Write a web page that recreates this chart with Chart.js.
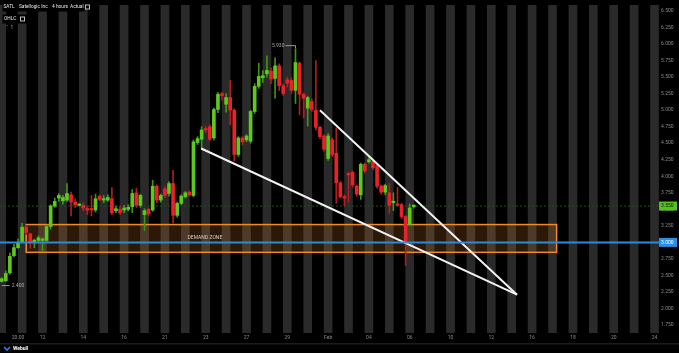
<!DOCTYPE html>
<html>
<head>
<meta charset="utf-8">
<script src="https://cdn.jsdelivr.net/npm/chart.js@4.4.1/dist/chart.umd.min.js"></script>
<style>
  html, body { margin: 0; padding: 0; background: #000; }
  #wrap { width: 679px; height: 353px; position: relative; }
</style>
</head>
<body>
<div id="wrap"><canvas id="satlChart"></canvas></div>
<script>
// 4-hour candles (one slot per candle)
const opens = [2.41, 2.42, 2.54, 2.80, 2.92, 3.01, 3.23, 3.13, 3.01, 3.03,
  3.03, 3.03, 3.24, 3.55, 3.67, 3.63, 3.64, 3.72, 3.61, 3.56,
  3.56, 3.50, 3.50, 3.49, 3.70, 3.64, 3.64, 3.66, 3.48, 3.50,
  3.49, 3.50, 3.54, 3.75, 3.56, 3.42, 3.50, 3.49, 3.85, 3.64,
  3.81, 3.74, 3.89, 3.41, 3.59, 3.69, 3.76, 3.71, 4.51, 4.56,
  4.72, 4.75, 4.58, 5.01, 5.25, 5.09, 5.19, 5.00, 4.33, 4.58,
  4.55, 4.53, 4.98, 5.36, 5.49, 5.55, 5.59, 5.48, 5.67, 5.37,
  5.46, 5.45, 5.30, 5.71, 5.24, 5.03, 5.13, 5.00, 4.74, 4.61,
  4.27, 4.55, 4.35, 3.90, 3.69, 4.04, 4.06, 3.85, 3.72, 4.18,
  4.22, 4.22, 4.16, 3.85, 3.76, 3.75, 3.60, 3.58, 3.57, 3.39,
  3.27, 3.54];
const highs = [2.47, 2.57, 2.84, 2.97, 3.05, 3.29, 3.26, 3.14, 3.05, 3.10,
  3.07, 3.26, 3.57, 3.67, 3.74, 3.71, 3.89, 3.76, 3.66, 3.58,
  3.60, 3.55, 3.71, 3.73, 3.72, 3.71, 3.72, 3.83, 3.55, 3.55,
  3.56, 3.57, 3.80, 3.82, 3.73, 3.51, 3.52, 3.94, 3.87, 3.73,
  3.84, 3.92, 4.09, 3.61, 3.72, 3.77, 3.78, 4.55, 4.60, 4.75,
  4.76, 4.78, 5.03, 5.27, 5.27, 5.25, 5.45, 5.02, 4.60, 4.60,
  4.63, 5.00, 5.40, 5.71, 5.60, 5.82, 5.64, 5.79, 5.70, 5.40,
  5.50, 5.49, 5.93, 5.73, 5.26, 5.21, 5.17, 5.75, 4.76, 4.63,
  4.65, 4.58, 4.73, 3.92, 3.72, 4.06, 4.08, 3.87, 4.20, 4.20,
  4.28, 4.24, 4.18, 3.87, 3.88, 3.89, 3.75, 3.83, 3.59, 3.41,
  3.58, 3.57];
const lows = [2.40, 2.41, 2.52, 2.78, 2.91, 3.00, 3.12, 2.91, 2.92, 3.00,
  2.87, 3.00, 3.20, 3.53, 3.62, 3.58, 3.62, 3.40, 3.53, 3.55,
  3.48, 3.42, 3.40, 3.46, 3.63, 3.60, 3.62, 3.42, 3.45, 3.42,
  3.45, 3.48, 3.45, 3.53, 3.53, 3.18, 3.40, 3.47, 3.60, 3.61,
  3.68, 3.70, 3.29, 3.38, 3.57, 3.67, 3.70, 3.69, 4.48, 4.41,
  4.66, 4.54, 4.55, 4.96, 5.15, 4.97, 4.78, 4.23, 4.30, 4.47,
  4.52, 4.50, 4.95, 5.33, 5.42, 5.50, 5.40, 5.18, 5.30, 5.22,
  5.35, 5.25, 5.10, 4.93, 4.88, 4.76, 4.98, 4.70, 4.57, 4.38,
  4.24, 4.30, 3.59, 3.67, 3.55, 3.61, 3.84, 3.70, 3.65, 4.05,
  4.20, 4.10, 3.82, 3.73, 3.72, 3.44, 3.48, 3.55, 3.36, 2.65,
  3.25, 3.52];
const closes = [2.45, 2.53, 2.79, 2.92, 3.00, 3.23, 3.15, 3.00, 3.03, 3.07,
  3.05, 3.24, 3.55, 3.62, 3.71, 3.68, 3.74, 3.61, 3.57, 3.57,
  3.52, 3.49, 3.49, 3.66, 3.65, 3.66, 3.68, 3.45, 3.51, 3.45,
  3.52, 3.53, 3.74, 3.56, 3.71, 3.48, 3.43, 3.85, 3.64, 3.71,
  3.71, 3.89, 3.41, 3.59, 3.70, 3.75, 3.72, 4.52, 4.57, 4.70,
  4.70, 4.56, 5.01, 5.24, 5.22, 5.19, 5.00, 4.33, 4.58, 4.52,
  4.61, 4.98, 5.36, 5.51, 5.52, 5.60, 5.47, 5.67, 5.37, 5.25,
  5.41, 5.30, 5.72, 5.24, 5.18, 5.19, 5.01, 4.74, 4.60, 4.41,
  4.61, 4.33, 3.90, 3.69, 3.67, 4.02, 3.87, 3.73, 4.18, 4.08,
  4.25, 4.13, 3.85, 3.76, 3.86, 3.56, 3.62, 3.56, 3.39, 3.01,
  3.52, 3.55];

const xTickAt = [4, 10, 20, 30, 40, 50, 60, 70, 80, 90, 100, 110, 120, 130, 140, 150, 160];
const xTickLabels = ['20:00', '12', '14', '16', '21', '23', '27', '29', 'Feb', '04', '06', '10', '12', '16', '18', '20', '24'];
const yTicks = [1.75, 2.0, 2.25, 2.5, 2.75, 3.0, 3.25, 3.5, 3.75, 4.0, 4.25, 4.5, 4.75, 5.0, 5.25, 5.5, 5.75, 6.0, 6.25, 6.5];

const lastPrice = 3.55;
const supportLevel = 3.0;
const zoneFrom = 6, zoneTo = 136, zoneLow = 2.85, zoneHigh = 3.27;
const lowerTrend = [{ x: 48.9, y: 4.42 }, { x: 126.3, y: 2.21 }];
const upperTrend = [{ x: 78, y: 5.0 }, { x: 126.3, y: 2.21 }];
const highMark = { i: 72, value: 5.93, text: '5.930' };
const lowMark = { i: 0, value: 2.40, text: '2.400' };

const xMin = -0.42, xMax = 161.1, yMin = 1.63, yMax = 6.59;

// one shaded stripe per session, every 5 candles
const stripeAt = [];
for (let i = 0; i <= 160; i += 5) stripeAt.push(i);

const idx = opens.map((_, i) => i);
const up = opens.map((o, i) => closes[i] >= o);

const FONT = 'Roboto, sans-serif';

const decor = {
  id: 'decor',
  afterDatasetDraw(chart, args) {
    if (args.index !== 0) return;
    const { ctx, scales: { x, y } } = chart;
    const l = x.getPixelForValue(zoneFrom), r = x.getPixelForValue(zoneTo);
    const t = y.getPixelForValue(zoneHigh), b = y.getPixelForValue(zoneLow);
    ctx.save();
    ctx.fillStyle = 'rgba(255,140,40,0.17)';
    ctx.fillRect(l, t, r - l, b - t);
    ctx.strokeStyle = '#f08c28';
    ctx.lineWidth = 1.5;
    ctx.strokeRect(l, t, r - l, b - t);
    ctx.fillStyle = '#d9cbbd';
    ctx.font = '5px ' + FONT;
    ctx.textAlign = 'center';
    ctx.textBaseline = 'middle';
    ctx.fillText('DEMAND ZONE', x.getPixelForValue(49.8), y.getPixelForValue(3.07));
    ctx.restore();
  },
  afterDraw(chart) {
    const { ctx, scales: { x, y } } = chart;
    ctx.save();
    ctx.font = '4.8px ' + FONT;
    ctx.textBaseline = 'middle';

    // header
    const head = [['SATL', 3.5], ['Satellogic Inc', 19], ['4 hours', 52], ['Actual', 70]];
    head.forEach(([t, hx]) => {
      const w = ctx.measureText(t).width;
      ctx.fillStyle = '#000';
      ctx.fillRect(hx - 1, 2.5, w + 2, 9);
    });
    head.forEach(([t, hx]) => {
      ctx.fillStyle = '#e6e6e6';
      ctx.fillText(t, hx, 7);
    });
    ctx.fillStyle = '#bdbdbd';
    ctx.fillRect(85, 4.5, 5, 5);
    ctx.fillStyle = '#000';
    ctx.fillRect(86, 5.5, 3, 3);
    ctx.fillStyle = '#000';
    ctx.fillRect(2.5, 14.5, 25, 9);
    ctx.fillStyle = '#e6e6e6';
    ctx.fillText('OHLC', 4, 19);
    ctx.fillStyle = '#bdbdbd';
    ctx.fillRect(20, 16.5, 5, 5);
    ctx.fillStyle = '#000';
    ctx.fillRect(21, 17.5, 3, 3);
    ctx.fillStyle = '#aaa';
    ctx.fillText('\u02C7  1', 6, 28);

    // high / low markers
    ctx.font = '5px ' + FONT;
    const hx = x.getPixelForValue(highMark.i), hy = y.getPixelForValue(highMark.value) - 3;
    ctx.strokeStyle = '#9a9a9a';
    ctx.lineWidth = 1;
    ctx.beginPath();
    ctx.moveTo(hx - 10, hy); ctx.lineTo(hx, hy); ctx.lineTo(hx, hy + 2.5);
    ctx.stroke();
    ctx.fillStyle = '#a8a8a8';
    ctx.textAlign = 'right';
    ctx.fillText(highMark.text, hx - 11, hy);
    const lx = x.getPixelForValue(lowMark.i), ly = y.getPixelForValue(lowMark.value) + 3.5;
    ctx.beginPath();
    ctx.moveTo(lx, ly); ctx.lineTo(lx + 8, ly);
    ctx.stroke();
    ctx.textAlign = 'left';
    ctx.fillText(lowMark.text, lx + 10, ly);

    // price tags on the axis
    const tag = (v, bg, fg) => {
      const ty = y.getPixelForValue(v);
      ctx.fillStyle = bg;
      ctx.fillRect(659, ty - 4.5, 18, 9);
      ctx.fillStyle = fg;
      ctx.textAlign = 'left';
      ctx.fillText(v.toFixed(3), 661, ty);
    };
    tag(lastPrice, '#55c21f', '#0b1a05');
    tag(supportLevel, '#2b8ee6', '#ffffff');

    // footer
    ctx.fillStyle = '#1c1c1c';
    ctx.fillRect(0, 343, 679, 1.5);
    ctx.strokeStyle = '#2a7cf0';
    ctx.lineWidth = 1.6;
    ctx.beginPath();
    ctx.moveTo(4, 347); ctx.lineTo(7, 350); ctx.lineTo(10, 347);
    ctx.stroke();
    ctx.fillStyle = '#ffffff';
    ctx.font = 'bold 5px ' + FONT;
    ctx.fillText('Webull', 13, 349);
    ctx.restore();
  }
};

const ctx = document.getElementById('satlChart').getContext('2d');
const satlChart = new Chart(ctx, {
  type: 'bar',
  data: {
    datasets: [
      {
        label: 'sessions',
        data: stripeAt.map(i => ({ x: i, y: [yMin, yMax] })),
        backgroundColor: '#2a2a2a',
        barThickness: 8,
        grouped: false,
        order: 10,
      },
      {
        label: 'wicks',
        data: idx.map(i => ({ x: i, y: [lows[i], highs[i]] })),
        backgroundColor: up.map(u => (u ? '#3f9418' : '#b01d22')),
        barThickness: 1,
        grouped: false,
        order: 5,
      },
      {
        label: 'bodies',
        data: idx.map(i => ({ x: i, y: [opens[i], closes[i]] })),
        backgroundColor: up.map(u => (u ? '#5ec81e' : '#e6222b')),
        barThickness: 3,
        minBarLength: 1.5,
        grouped: false,
        order: 4,
      },
      {
        type: 'line',
        label: 'last',
        data: [{ x: xMin, y: lastPrice }, { x: xMax, y: lastPrice }],
        borderColor: '#24501a',
        borderDash: [2, 2],
        borderWidth: 1,
        pointRadius: 0,
        order: 6,
      },
      {
        type: 'line',
        label: 'lower trend',
        data: lowerTrend,
        borderColor: '#f2f2f2',
        borderWidth: 2,
        pointRadius: 0,
        order: 2,
      },
      {
        type: 'line',
        label: 'upper trend',
        data: upperTrend,
        borderColor: '#f2f2f2',
        borderWidth: 2,
        pointRadius: 0,
        order: 2,
      },
      {
        type: 'line',
        label: 'support',
        data: [{ x: xMin, y: supportLevel }, { x: xMax, y: supportLevel }],
        borderColor: '#2b8ae0',
        borderWidth: 2,
        pointRadius: 0,
        order: 1,
      },
    ],
  },
  options: {
    responsive: true,
    maintainAspectRatio: false,
    animation: false,
    events: [],
    layout: { autoPadding: false, padding: { left: 0, right: 0, top: 0, bottom: 8 } },
    scales: {
      x: {
        type: 'linear',
        offset: false,
        min: xMin,
        max: xMax,
        grid: { display: false, drawTicks: false, offset: false },
        border: { display: false },
        afterBuildTicks: s => { s.ticks = xTickAt.map(v => ({ value: v })); },
        afterFit: s => { s.height = 12; },
        ticks: {
          padding: 2,
          maxRotation: 0,
          autoSkip: false,
          callback: (v, i) => xTickLabels[i],
          font: { family: FONT, size: 5 },
          color: '#8a8a8a',
        },
      },
      y: {
        type: 'linear',
        position: 'right',
        min: yMin,
        max: yMax,
        grid: { display: false, drawTicks: false },
        border: { display: false },
        afterBuildTicks: s => { s.ticks = yTicks.map(v => ({ value: v })); },
        afterFit: s => { s.width = 20; },
        ticks: {
          padding: 2,
          callback: v => v.toFixed(3),
          font: { family: FONT, size: 5 },
          color: '#8a8a8a',
        },
      },
    },
    plugins: {
      legend: { display: false },
      tooltip: { enabled: false },
    },
  },
  plugins: [decor],
});
</script>
</body>
</html>
